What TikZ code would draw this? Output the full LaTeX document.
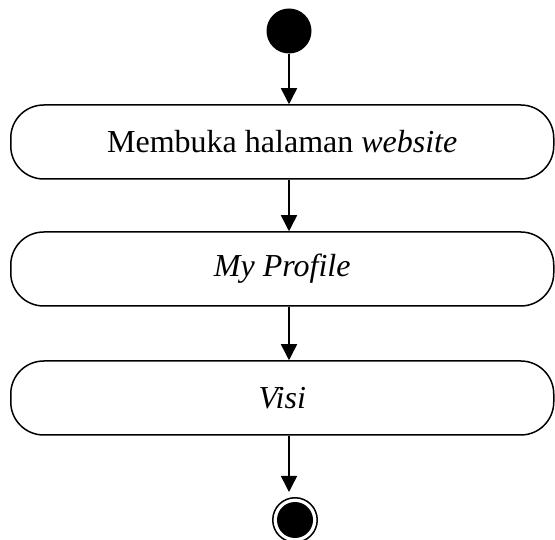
\documentclass[tikz,border=0pt]{standalone}
\usepackage{fontspec}
\setmainfont{Liberation Serif}
\usetikzlibrary{arrows.meta}

\begin{document}
\begin{tikzpicture}[x=1pt,y=1pt,
	activity/.style={draw, line width=1.5pt, rounded corners=33pt, minimum width=543pt, minimum height=74pt, font=\fontsize{32}{38}\selectfont},
	startnode/.style={circle, fill=black, minimum size=45pt, inner sep=0pt},
	endnode/.style={circle, draw, line width=1.5pt, minimum size=44.5pt, inner sep=0pt, path picture={\fill (path picture bounding box.center) circle (18pt);}},
	flow/.style={-{Triangle[width=16pt,length=16pt]}, line width=1.5pt}]
	%\draw[help lines] (0,0) grid[step=50] (555,539);
	\useasboundingbox (0,0) rectangle (555,539);
	\node[startnode] (start) at (289,508) {};
	\node[activity] (web) at (282.25,397) {Membuka halaman \textit{website}};
	\node[activity] (profile) at (282.25,270) {\textit{My Profile}};
	\node[activity] (visi) at (282.25,141) {\textit{Visi}};
	\node[endnode] (end) at (295,19) {};
	\draw[flow] (start) -- (web.north -| start);
	\draw[flow] (web.south -| start) -- (profile.north -| start);
	\draw[flow] (profile.south -| start) -- (visi.north -| start);
	\draw[flow, shorten >=5pt] (visi.south -| start) -- (end.north -| start);
\end{tikzpicture}
\end{document}
